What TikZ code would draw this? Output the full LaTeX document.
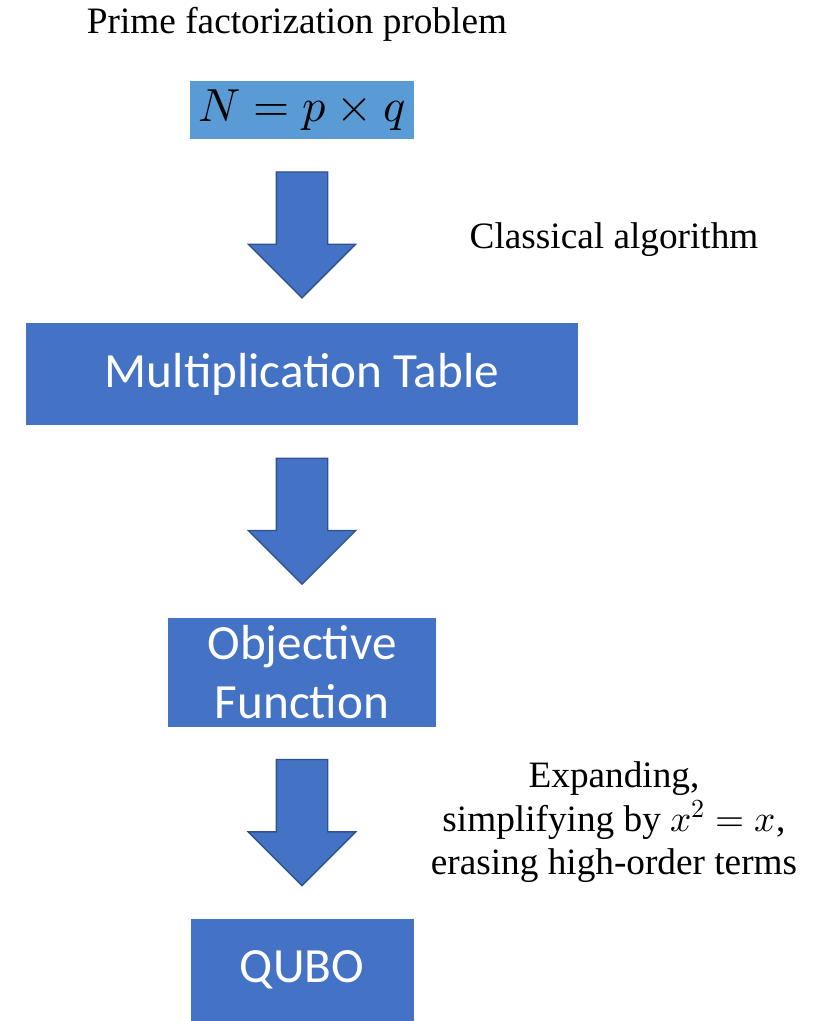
\documentclass[tikz,border=0pt]{standalone}
\usepackage{fontspec}
\usepackage{unicode-math}
\setmainfont{Liberation Serif}
\setsansfont{Carlito}
\setmathfont{Latin Modern Math}
\usetikzlibrary{positioning}
\usetikzlibrary{shapes.arrows}
\definecolor{boxblue}{HTML}{4472C4}
\definecolor{lightblue}{HTML}{5B9BD5}
\definecolor{edgeblue}{HTML}{2F528F}

\begin{document}
\begin{tikzpicture}
  \tikzstyle{label} = [inner sep=0pt, font=\fontsize{26.5}{31}\selectfont, align=center]
  \tikzstyle{block} = [rectangle, fill=boxblue, draw=none, text=white, inner sep=0pt, align=center, font=\sffamily\fontsize{35}{42}\selectfont]
  \tikzstyle{downarrow} = [single arrow, shape border rotate=270, fill=boxblue, draw=edgeblue, line width=1pt, inner sep=0.625cm, minimum width=2.65cm, single arrow head extend=0.7cm, minimum height=3.15cm, anchor=tail]

  \useasboundingbox (0,0) rectangle (20.625,-25.525);

  \node (title) [label] at (7.425,-0.62) {Prime factorization problem};
  \node (eqn) [block, fill=lightblue, text=black, minimum width=5.6cm, minimum height=1.45cm, font=\fontsize{33}{40}\selectfont] at (7.55,-2.75) {$N = p \times q$};
  \node (arr1) [downarrow, below=0.8cm of eqn.south, anchor=tail] {};
  \node (mult) [block, below=0.6cm of arr1.tip, minimum width=13.8cm, minimum height=2.55cm] {Multiplication Table};
  \node (arr2) [downarrow, below=0.8cm of mult.south, anchor=tail] {};
  \node (obj) [block, below=0.8cm of arr2.tip, minimum width=6.7cm, minimum height=2.725cm] {Objective\\Function};
  \node (arr3) [downarrow, below=0.8cm of obj.south, anchor=tail] {};
  \node (qubo) [block, below=0.8cm of arr3.tip, minimum width=5.575cm, minimum height=2.55cm] {QUBO};

  \node (classical) [label] at (15.35,-6.0) {Classical algorithm};
  % text beside the last arrow
  \node (expand) [label] at (15.35,-20.56) {Expanding,\\simplifying by $x^2 = x$,\\erasing high-order terms};
\end{tikzpicture}
\end{document}
